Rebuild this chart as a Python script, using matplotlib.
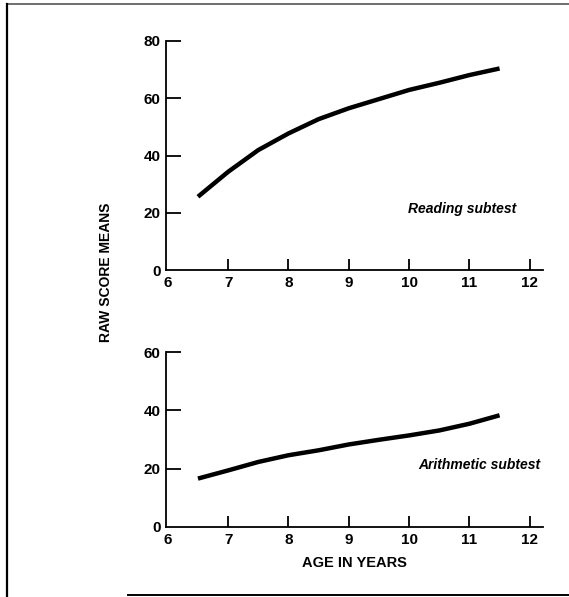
import matplotlib
matplotlib.use('Agg')
import matplotlib.pyplot as plt
from matplotlib.lines import Line2D

plt.rcParams['font.family'] = ['Liberation Sans', 'DejaVu Sans']

# ages in years
ages = [6.5, 7.0, 7.5, 8.0, 8.5, 9.0, 9.5, 10.0, 10.5, 11.0, 11.5]
# raw score means
reading = [25.6, 34.3, 41.9, 47.7, 52.7, 56.5, 59.7, 62.9, 65.4, 68.1, 70.4]
arithmetic = [16.6, 19.4, 22.3, 24.6, 26.3, 28.3, 29.9, 31.4, 33.1, 35.4, 38.3]

x_ticks = [6, 7, 8, 9, 10, 11, 12]
x_labels = ['6', '7', '8', '9', '10', '11', '12']
reading_yticks = [0, 20, 40, 60, 80]
arith_yticks = [0, 20, 40, 60]

W, H = 569, 597
fig = plt.figure(figsize=(W / 100, H / 100), dpi=100)


def box(l, t, r, b):
    return [l / W, 1 - b / H, (r - l) / W, (b - t) / H]


ax1 = fig.add_axes(box(166, 41, 543, 270))
ax2 = fig.add_axes(box(166, 352, 543, 527))


def style(ax, yticks, ytop):
    for s in ['top', 'right']:
        ax.spines[s].set_visible(False)
    for s in ['left', 'bottom']:
        ax.spines[s].set_linewidth(1.3)
    ax.set_xlim(5.97, 12.22)
    ax.set_ylim(0, ytop)
    ax.set_xticks(x_ticks)
    ax.set_xticklabels(x_labels, fontweight='bold')
    ax.set_yticks(yticks)
    ax.set_yticklabels([str(v) for v in yticks], fontweight='bold')
    ax.tick_params(axis='y', direction='in', length=10.5, width=1.3, pad=4,
                   labelsize=11)
    ax.tick_params(axis='x', direction='in', length=8, width=1.3, pad=4,
                   labelsize=11)
    ax.xaxis.get_major_ticks()[0].tick1line.set_visible(False)
    ax.yaxis.get_major_ticks()[0].tick1line.set_visible(False)


style(ax1, reading_yticks, 80)
style(ax2, arith_yticks, 60)

ax1.plot(ages, reading, color='black', lw=3.2, solid_capstyle='butt')
ax2.plot(ages, arithmetic, color='black', lw=3.2, solid_capstyle='butt')

ax1.text(11.78, 21.3, 'Reading subtest', style='italic', fontsize=10,
         fontweight='bold', ha='right', va='center')
ax2.text(12.18, 21.3, 'Arithmetic subtest', style='italic', fontsize=10,
         fontweight='bold', ha='right', va='center')

fig.text(106 / W, 1 - 272 / H, 'RAW SCORE MEANS', rotation=90, fontsize=10,
         fontweight='bold', ha='center', va='center')
ax2.set_xlabel('AGE IN YEARS', fontsize=10.5, fontweight='bold', labelpad=7)

# page frame
fig.add_artist(Line2D([8 / W, 1], [1 - 4 / H, 1 - 4 / H], color='#555555', lw=1.2))
fig.add_artist(Line2D([7 / W, 7 / W], [1 - 4 / H, 0], color='black', lw=1.6))
fig.add_artist(Line2D([128 / W, 1], [1 - 595 / H, 1 - 595 / H], color='black', lw=1.4))

fig.savefig('out.png', dpi=100)
